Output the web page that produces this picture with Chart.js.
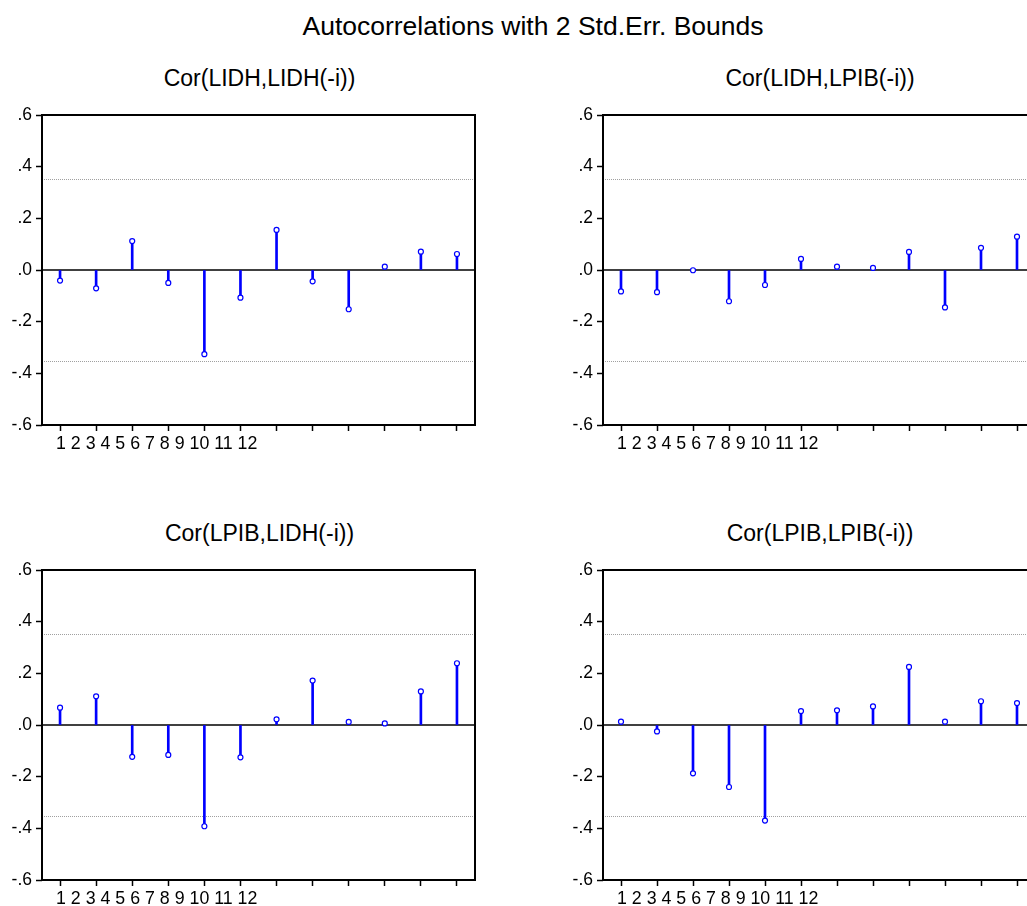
<!DOCTYPE html>
<html>
<head>
<meta charset="utf-8">
<script src="https://cdn.jsdelivr.net/npm/chart.js@4"></script>
<style>
  body { margin: 0; background: #fff; width: 1027px; height: 906px; overflow: hidden; position: relative; font-family: "Liberation Sans", Arial, sans-serif; }
  canvas { position: absolute; }
  .ttl { position: absolute; text-align: center; line-height: 1; color: #000; white-space: nowrap; }
  #main { top: 13px; left: 0; width: 1066px; font-size: 26.5px; }
  .sub { font-size: 23px; }
</style>
</head>
<body>
<div id="main" class="ttl">Autocorrelations with 2 Std.Err. Bounds</div>
<div class="ttl sub" style="left:43px;top:67px;width:433px">Cor(LIDH,LIDH(-i))</div>
<div class="ttl sub" style="left:604px;top:67px;width:432px">Cor(LIDH,LPIB(-i))</div>
<div class="ttl sub" style="left:43px;top:522px;width:433px">Cor(LPIB,LIDH(-i))</div>
<div class="ttl sub" style="left:604px;top:522px;width:432px">Cor(LPIB,LPIB(-i))</div>

<canvas id="c1" width="490" height="370" style="left:0;top:100px"></canvas>
<canvas id="c2" width="489" height="370" style="left:561px;top:100px"></canvas>
<canvas id="c3" width="490" height="370" style="left:0;top:555px"></canvas>
<canvas id="c4" width="489" height="370" style="left:561px;top:555px"></canvas>

<script>
// lags and cross correlations
const lags = ['1', '2', '3', '4', '5', '6', '7', '8', '9', '10', '11', '12'];
const yTicks = [-0.6, -0.4, -0.2, 0, 0.2, 0.4, 0.6];
const stdErrBound = 0.3536; // 2/sqrt(32)

const corLidhLidh = [-0.041, -0.071, 0.112, -0.050, -0.326, -0.107, 0.155, -0.044, -0.152, 0.013, 0.071, 0.062];
const corLidhLpib = [-0.083, -0.086, -0.001, -0.121, -0.058, 0.043, 0.013, 0.008, 0.070, -0.145, 0.086, 0.129];
const corLpibLidh = [0.067, 0.111, -0.123, -0.116, -0.392, -0.125, 0.022, 0.172, 0.012, 0.006, 0.130, 0.239];
const corLpibLpib = [0.013, -0.025, -0.187, -0.240, -0.370, 0.054, 0.057, 0.072, 0.225, 0.013, 0.092, 0.085];

const FONT = "'Liberation Sans', Arial, sans-serif";

// bounds, zero line and box frame
const framePlugin = {
  id: 'frame',
  beforeDatasetsDraw(chart) {
    const ctx = chart.ctx, a = chart.chartArea, y = chart.scales.y;
    ctx.save();
    ctx.strokeStyle = '#a0a0a0';
    ctx.lineWidth = 1;
    ctx.setLineDash([1, 1]);
    [stdErrBound, -stdErrBound].forEach(v => {
      const py = Math.round(y.getPixelForValue(v)) + 0.5;
      ctx.beginPath();
      ctx.moveTo(a.left, py);
      ctx.lineTo(a.right, py);
      ctx.stroke();
    });
    ctx.setLineDash([]);
    ctx.strokeStyle = '#000';
    ctx.lineWidth = 1.5;
    const zy = Math.round(y.getPixelForValue(0));
    ctx.beginPath();
    ctx.moveTo(a.left, zy);
    ctx.lineTo(a.right, zy);
    ctx.stroke();
    ctx.restore();
  },
  afterDraw(chart) {
    const ctx = chart.ctx, a = chart.chartArea;
    ctx.save();
    ctx.strokeStyle = '#000';
    ctx.lineWidth = 2;
    ctx.strokeRect(a.left, a.top, a.right - a.left, a.bottom - a.top);
    ctx.restore();
  }
};

function drawPanel(id, values) {
  const data = {
    labels: lags,
    datasets: [
      {
        type: 'line',
        data: values,
        showLine: false,
        pointRadius: 2.5,
        pointBorderWidth: 1.2,
        pointBackgroundColor: '#fff',
        pointBorderColor: '#0000ff',
        order: 1
      },
      {
        type: 'bar',
        data: values,
        backgroundColor: '#0000ff',
        barThickness: 2,
        order: 2
      }
    ]
  };

  const config = {
    type: 'bar',
    data,
    options: {
      responsive: false,
      animation: false,
      layout: { padding: { top: 15, right: 15, left: 0, bottom: 0 } },
      plugins: { legend: { display: false }, tooltip: { enabled: false } },
      scales: {
        x: {
          offset: true,
          border: { display: false },
          grid: { offset: false, drawOnChartArea: false, color: '#000', tickLength: 6, tickWidth: 1.5 },
          ticks: {
            autoSkip: false,
            maxRotation: 0,
            minRotation: 0,
            align: 'start',
            labelOffset: -4,
            padding: 2,
            color: '#000',
            font: { family: FONT, size: 17.8 },
            callback: (v, i) => i === 0 ? lags.join(' ') : ''
          },
          afterFit: s => { s.height = 45; }
        },
        y: {
          min: yTicks[0],
          max: yTicks[yTicks.length - 1],
          border: { display: false },
          grid: { drawOnChartArea: false, color: '#000', tickLength: 6, tickWidth: 1.5 },
          afterBuildTicks: s => { s.ticks = yTicks.map(v => ({ value: v })); },
          ticks: {
            padding: 4,
            color: '#000',
            font: { family: FONT, size: 17.5 },
            callback: v => Math.abs(v) < 1e-9 ? '.0' : v.toFixed(1).replace('0.', '.')
          },
          afterFit: s => { s.width = 42; }
        }
      }
    },
    plugins: [framePlugin]
  };

  new Chart(document.getElementById(id), config);
}

drawPanel('c1', corLidhLidh);
drawPanel('c2', corLidhLpib);
drawPanel('c3', corLpibLidh);
drawPanel('c4', corLpibLpib);
</script>
</body>
</html>
